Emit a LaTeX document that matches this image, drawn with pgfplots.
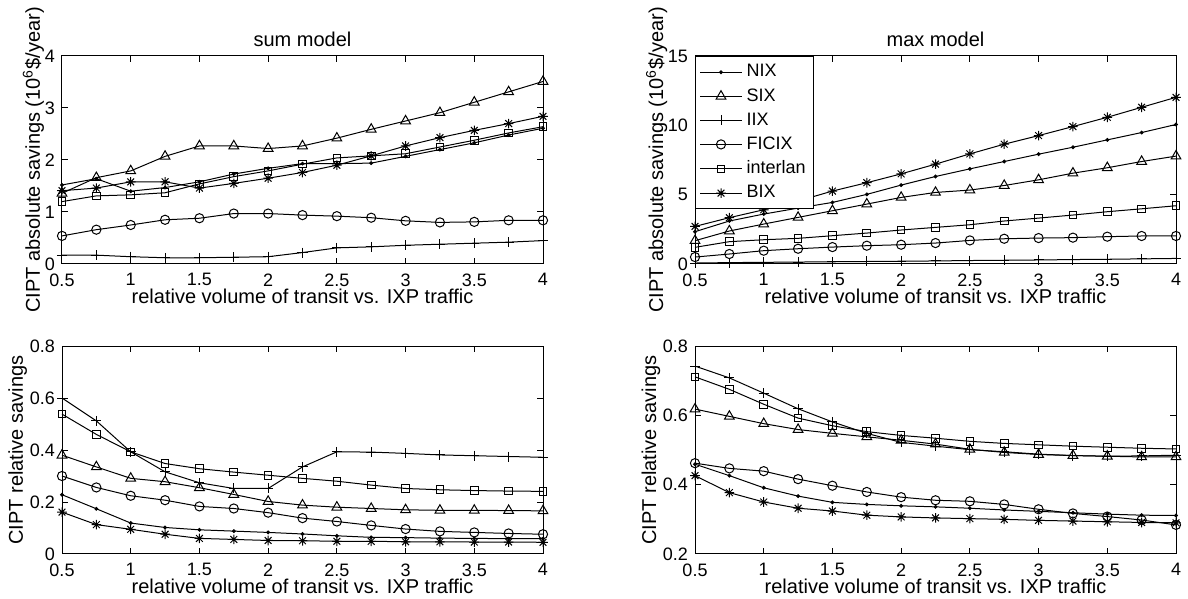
\documentclass[border=0pt]{standalone}
\usepackage{fontspec}
\setmainfont{Liberation Sans}
\usepackage{pgfplots}
\pgfplotsset{compat=1.18}

% MATLAB '*' marker: plus and cross together
\pgfdeclareplotmark{mstar}{%
  \pgfpathmoveto{\pgfqpoint{0pt}{\pgfplotmarksize}}\pgfpathlineto{\pgfqpoint{0pt}{-\pgfplotmarksize}}%
  \pgfpathmoveto{\pgfqpoint{\pgfplotmarksize}{0pt}}\pgfpathlineto{\pgfqpoint{-\pgfplotmarksize}{0pt}}%
  \pgfpathmoveto{\pgfqpoint{0.707\pgfplotmarksize}{0.707\pgfplotmarksize}}\pgfpathlineto{\pgfqpoint{-0.707\pgfplotmarksize}{-0.707\pgfplotmarksize}}%
  \pgfpathmoveto{\pgfqpoint{-0.707\pgfplotmarksize}{0.707\pgfplotmarksize}}\pgfpathlineto{\pgfqpoint{0.707\pgfplotmarksize}{-0.707\pgfplotmarksize}}%
  \pgfusepathqstroke}

% MATLAB-like look for all four panels
\pgfplotsset{
  mstyle/.style={
    scale only axis, width=240.5pt, height=104pt,
    xmin=0.5, xmax=4, xtick={0.5,1,...,4},
    axis line style={line width=0.5pt},
    tick style={line width=0.5pt, black},
    tick align=inside, major tick length=3pt,
    xtick pos=both, ytick pos=both,
    ticklabel style={font=\fontsize{9}{10}\selectfont},
    xticklabel style={yshift=-1.2pt},
    /pgf/number format/assume math mode=true,
    every axis plot/.append style={black, line width=0.5pt, mark options={solid, line width=0.5pt}},
    clip=false,
    every axis x label/.style={at={(axis description cs:0.5,0)}, anchor=base, yshift=-20pt,
      font=\fontsize{10}{12}\selectfont},
    every axis title/.style={at={(axis description cs:0.5,1)}, anchor=base, yshift=4.5pt,
      font=\fontsize{10}{12}\selectfont},
    xlabel={relative volume of transit vs. IXP traffic},
    legend image code/.code={\draw[mark repeat=2,mark phase=2,#1] plot coordinates {(0pt,0pt) (10.5pt,0pt) (21pt,0pt)};},
  },
  ylab/.style={every axis y label/.style={at={(axis description cs:0,0.5)}, xshift=-#1, rotate=90,
      anchor=base, font=\fontsize{10}{12}\selectfont}},
  nix/.style={mark=*, mark size=0.7pt},
  six/.style={mark=triangle, mark size=2.8pt},
  iix/.style={mark=+, mark size=2.5pt},
  ficix/.style={mark=o, mark size=2.3pt},
  interlan/.style={mark=square, mark size=1.9pt},
  bix/.style={mark=mstar, mark size=2.4pt},
}

\begin{document}
\begin{tikzpicture}
\useasboundingbox (0,0) rectangle (594pt,299.5pt);

% ---- sum model, absolute
\begin{axis}[mstyle, ylab=11pt, at={(31pt,167.5pt)}, anchor=south west,
  ymin=0, ymax=4, ytick={0,1,2,3,4},
  title={sum model},
  ylabel={CIPT absolute savings (10\textsuperscript{6}\$/year)}]
\addplot[nix] coordinates {(0.5,1.52) (0.75,1.64) (1,1.40) (1.25,1.47) (1.5,1.58) (1.75,1.73) (2,1.84) (2.25,1.93) (2.5,1.93) (2.75,1.94) (3,2.07) (3.25,2.20) (3.5,2.33) (3.75,2.48) (4,2.61)};
\addplot[six] coordinates {(0.5,1.36) (0.75,1.66) (1,1.79) (1.25,2.07) (1.5,2.27) (1.75,2.27) (2,2.22) (2.25,2.27) (2.5,2.42) (2.75,2.59) (3,2.75) (3.25,2.91) (3.5,3.11) (3.75,3.31) (4,3.51)};
\addplot[iix] coordinates {(0.5,0.17) (0.75,0.17) (1,0.14) (1.25,0.12) (1.5,0.12) (1.75,0.13) (2,0.14) (2.25,0.22) (2.5,0.31) (2.75,0.33) (3,0.36) (3.25,0.38) (3.5,0.40) (3.75,0.42) (4,0.45)};
\addplot[ficix] coordinates {(0.5,0.54) (0.75,0.66) (1,0.75) (1.25,0.85) (1.5,0.88) (1.75,0.97) (2,0.97) (2.25,0.94) (2.5,0.92) (2.75,0.89) (3,0.83) (3.25,0.80) (3.5,0.81) (3.75,0.84) (4,0.84)};
\addplot[interlan] coordinates {(0.5,1.20) (0.75,1.31) (1,1.33) (1.25,1.37) (1.5,1.54) (1.75,1.68) (2,1.79) (2.25,1.92) (2.5,2.04) (2.75,2.08) (3,2.12) (3.25,2.25) (3.5,2.38) (3.75,2.52) (4,2.64)};
\addplot[bix] coordinates {(0.5,1.41) (0.75,1.46) (1,1.58) (1.25,1.58) (1.5,1.46) (1.75,1.55) (2,1.65) (2.25,1.76) (2.5,1.90) (2.75,2.08) (3,2.27) (3.25,2.43) (3.5,2.57) (3.75,2.70) (4,2.84)};
\end{axis}

% ---- max model, absolute
\begin{axis}[mstyle, ylab=16pt, at={(347.5pt,167.5pt)}, anchor=south west,
  ymin=0, ymax=15, ytick={0,5,10,15},
  title={max model},
  ylabel={CIPT absolute savings (10\textsuperscript{6}\$/year)},
  legend cell align=left,
  legend style={at={(0,1)}, anchor=north west, draw=black, line width=0.5pt, fill=white,
    font=\fontsize{9}{10}\selectfont, row sep=0.3pt, inner xsep=2pt, inner ysep=2pt,
    /tikz/every even column/.append style={column sep=1pt}}]
\addplot[nix] coordinates {(0.5,2.33) (0.75,3.10) (1,3.60) (1.25,4.03) (1.5,4.44) (1.75,5.02) (2,5.69) (2.25,6.31) (2.5,6.86) (2.75,7.39) (3,7.92) (3.25,8.42) (3.5,8.95) (3.75,9.48) (4,10.06)};
\addlegendentry{NIX}
\addplot[six] coordinates {(0.5,1.68) (0.75,2.38) (1,2.88) (1.25,3.36) (1.5,3.84) (1.75,4.32) (2,4.80) (2.25,5.16) (2.5,5.33) (2.75,5.66) (3,6.07) (3.25,6.55) (3.5,6.94) (3.75,7.39) (4,7.78)};
\addlegendentry{SIX}
\addplot[iix] coordinates {(0.5,0.07) (0.75,0.10) (1,0.12) (1.25,0.14) (1.5,0.16) (1.75,0.18) (2,0.20) (2.25,0.22) (2.5,0.25) (2.75,0.27) (3,0.29) (3.25,0.32) (3.5,0.34) (3.75,0.37) (4,0.40)};
\addlegendentry{IIX}
\addplot[ficix] coordinates {(0.5,0.50) (0.75,0.72) (1,0.96) (1.25,1.10) (1.5,1.22) (1.75,1.32) (2,1.39) (2.25,1.51) (2.5,1.70) (2.75,1.82) (3,1.87) (3.25,1.90) (3.5,1.97) (3.75,2.02) (4,2.02)};
\addlegendentry{FICIX}
\addplot[interlan] coordinates {(0.5,1.20) (0.75,1.61) (1,1.75) (1.25,1.85) (1.5,2.04) (1.75,2.23) (2,2.45) (2.25,2.64) (2.5,2.83) (2.75,3.10) (3,3.31) (3.25,3.53) (3.5,3.77) (3.75,3.98) (4,4.20)};
\addlegendentry{interlan}
\addplot[bix] coordinates {(0.5,2.71) (0.75,3.34) (1,3.91) (1.25,4.54) (1.5,5.26) (1.75,5.86) (2,6.50) (2.25,7.20) (2.5,7.94) (2.75,8.64) (3,9.26) (3.25,9.91) (3.5,10.58) (3.75,11.30) (4,12.02)};
\addlegendentry{BIX}
\end{axis}

% ---- sum model, relative
\begin{axis}[mstyle, ylab=19.5pt, at={(31pt,22.5pt)}, anchor=south west,
  ymin=0, ymax=0.8, ytick={0,0.2,0.4,0.6,0.8},
  ylabel={CIPT relative savings}]
\addplot[nix] coordinates {(0.5,0.228) (0.75,0.174) (1,0.119) (1.25,0.102) (1.5,0.093) (1.75,0.088) (2,0.083) (2.25,0.077) (2.5,0.070) (2.75,0.064) (3,0.063) (3.25,0.061) (3.5,0.060) (3.75,0.059) (4,0.059)};
\addplot[six] coordinates {(0.5,0.380) (0.75,0.335) (1,0.291) (1.25,0.278) (1.5,0.255) (1.75,0.229) (2,0.202) (2.25,0.188) (2.5,0.180) (2.75,0.175) (3,0.170) (3.25,0.168) (3.5,0.168) (3.75,0.167) (4,0.166)};
\addplot[iix] coordinates {(0.5,0.600) (0.75,0.512) (1,0.393) (1.25,0.316) (1.5,0.274) (1.75,0.252) (2,0.252) (2.25,0.335) (2.5,0.393) (2.75,0.392) (3,0.387) (3.25,0.381) (3.5,0.378) (3.75,0.375) (4,0.372)};
\addplot[ficix] coordinates {(0.5,0.300) (0.75,0.256) (1,0.224) (1.25,0.207) (1.5,0.183) (1.75,0.175) (2,0.159) (2.25,0.138) (2.5,0.125) (2.75,0.110) (3,0.096) (3.25,0.087) (3.5,0.083) (3.75,0.079) (4,0.076)};
\addplot[interlan] coordinates {(0.5,0.538) (0.75,0.460) (1,0.393) (1.25,0.348) (1.5,0.328) (1.75,0.315) (2,0.303) (2.25,0.291) (2.5,0.280) (2.75,0.265) (3,0.252) (3.25,0.247) (3.5,0.244) (3.75,0.242) (4,0.241)};
\addplot[bix] coordinates {(0.5,0.161) (0.75,0.113) (1,0.095) (1.25,0.076) (1.5,0.060) (1.75,0.056) (2,0.052) (2.25,0.051) (2.5,0.049) (2.75,0.049) (3,0.047) (3.25,0.047) (3.5,0.046) (3.75,0.046) (4,0.045)};
\end{axis}

% ---- max model, relative
\begin{axis}[mstyle, ylab=19.5pt, at={(347.5pt,22.5pt)}, anchor=south west,
  ymin=0.2, ymax=0.8, ytick={0.2,0.4,0.6,0.8},
  ylabel={CIPT relative savings}]
\addplot[nix] coordinates {(0.5,0.459) (0.75,0.426) (1,0.391) (1.25,0.367) (1.5,0.349) (1.75,0.343) (2,0.339) (2.25,0.336) (2.5,0.332) (2.75,0.327) (3,0.323) (3.25,0.319) (3.5,0.315) (3.75,0.312) (4,0.311)};
\addplot[six] coordinates {(0.5,0.618) (0.75,0.597) (1,0.576) (1.25,0.559) (1.5,0.548) (1.75,0.538) (2,0.528) (2.25,0.517) (2.5,0.502) (2.75,0.493) (3,0.487) (3.25,0.484) (3.5,0.482) (3.75,0.480) (4,0.480)};
\addplot[iix] coordinates {(0.5,0.742) (0.75,0.708) (1,0.664) (1.25,0.619) (1.5,0.581) (1.75,0.548) (2,0.522) (2.25,0.511) (2.5,0.501) (2.75,0.495) (3,0.488) (3.25,0.484) (3.5,0.482) (3.75,0.483) (4,0.485)};
\addplot[ficix] coordinates {(0.5,0.462) (0.75,0.447) (1,0.439) (1.25,0.416) (1.5,0.397) (1.75,0.379) (2,0.364) (2.25,0.355) (2.5,0.352) (2.75,0.343) (3,0.329) (3.25,0.317) (3.5,0.308) (3.75,0.298) (4,0.284)};
\addplot[interlan] coordinates {(0.5,0.711) (0.75,0.675) (1,0.632) (1.25,0.592) (1.5,0.570) (1.75,0.553) (2,0.542) (2.25,0.534) (2.5,0.525) (2.75,0.519) (3,0.515) (3.25,0.511) (3.5,0.508) (3.75,0.505) (4,0.503)};
\addplot[bix] coordinates {(0.5,0.426) (0.75,0.377) (1,0.350) (1.25,0.332) (1.5,0.324) (1.75,0.312) (2,0.307) (2.25,0.304) (2.5,0.302) (2.75,0.300) (3,0.297) (3.25,0.295) (3.5,0.293) (3.75,0.291) (4,0.290)};
\end{axis}
\end{tikzpicture}
\end{document}
